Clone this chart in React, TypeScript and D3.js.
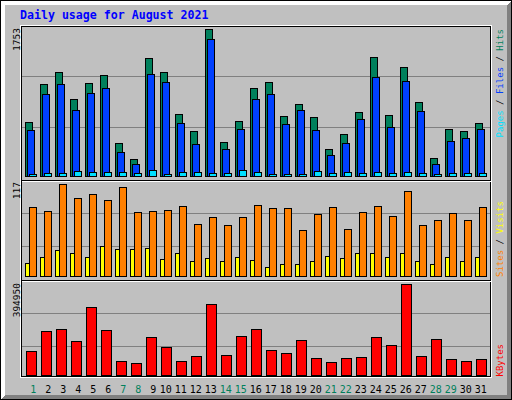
import React from 'react';
import * as d3 from 'd3';

// daily totals, August 2021
const days = [1, 2, 3, 4, 5, 6, 7, 8, 9, 10, 11, 12, 13, 14, 15, 16, 17, 18, 19, 20, 21, 22, 23, 24, 25, 26, 27, 28, 29, 30, 31];
const weekendDays = [1, 7, 8, 14, 15, 21, 22, 28, 29];

const hits = [642, 1096, 1239, 917, 1108, 1203, 391, 200, 1407, 1239, 737, 534, 1753, 403, 654, 1048,
  1120, 713, 857, 701, 319, 498, 761, 1418, 725, 1299, 881, 212, 558, 534, 630];
const files = [546, 976, 1096, 785, 988, 1048, 283, 140, 1215, 1120, 630, 379, 1634, 319, 558, 917,
  976, 618, 785, 546, 247, 391, 678, 1179, 582, 1132, 773, 140, 415, 450, 558];
const pages = [24, 36, 36, 60, 48, 48, 48, 36, 72, 24, 48, 48, 36, 36, 72, 48,
  24, 24, 24, 60, 36, 48, 36, 48, 36, 48, 36, 24, 36, 36, 36];

const visits = [16, 24, 33, 29, 24, 38, 34, 34, 35, 21, 29, 19, 23, 19, 24, 20,
  11, 15, 15, 19, 26, 23, 29, 29, 24, 29, 19, 15, 24, 19, 24];
const sites = [88, 83, 117, 99, 104, 97, 113, 81, 83, 84, 89, 66, 75, 65, 75, 90,
  86, 86, 58, 79, 88, 60, 81, 89, 76, 108, 65, 71, 80, 71, 88];

const kbytes = [103200, 190300, 199000, 146700, 294800, 194600, 59700, 50900, 164200, 120600, 59700, 81400,
  307900, 85800, 168500, 199000, 107600, 94500, 151100, 72700, 55300, 72700, 77100, 164200, 129300,
  394950, 81400, 155500, 68400, 59700, 68400];

const C = {
  bg: '#C0C0C0',
  dk: '#808080',
  hits: '#00805C',
  files: '#0040FF',
  pages: '#00E0FF',
  visits: '#FFFF00',
  sites: '#FF8000',
  kbytes: '#FF0000',
  title: '#0000FF',
};
const FONT = '"DejaVu Sans Mono", monospace';

const App: React.FC = () => {
  const x = d3.scaleLinear().domain([1, 31]).range([25, 475]);
  const yHits = d3.scaleLinear().domain([0, d3.max(hits) as number]).range([176.5, 29.5]);
  const ySites = d3.scaleLinear().domain([0, d3.max(sites) as number]).range([276.5, 184.5]);
  const yKb = d3.scaleLinear().domain([0, d3.max(kbytes) as number]).range([375.5, 284.5]);

  // grid lines split each panel in thirds
  const gTop = d3.scaleLinear().domain([0, 3]).range([178, 25]);
  const gMid = d3.scaleLinear().domain([0, 3]).range([279, 180]);
  const gBot = d3.scaleLinear().domain([0, 3]).range([379, 280]);
  const grid = [1, 2].flatMap(k => [gTop(k), gMid(k), gBot(k)]);

  const bar = (key: string, left: number, w: number, y: (v: number) => number, v: number, fill: string) => {
    const top = Math.round(y(v) - 0.5) + 0.5;
    const base = y(0);
    return <rect key={key} x={left + 0.5} y={top} width={w} height={base - top} fill={fill} stroke="#000" strokeWidth={1} />;
  };

  return (
    <svg width={512} height={400} viewBox="0 0 512 400"
      style={{ position: 'absolute', left: 0, top: 0, display: 'block' }}
      shapeRendering="crispEdges" fontFamily={FONT}>
      <rect x={0} y={0} width={512} height={400} fill={C.bg} />
      {/* bevelled outer border */}
      <polygon points="1,1 511,1 507,5 5,5 5,395 1,399" fill="#fff" />
      <polygon points="511,1 511,399 1,399 5,395 507,395 507,5" fill={C.dk} />
      <rect x={0.5} y={0.5} width={511} height={399} fill="none" stroke="#000" />

      <text x={20} y={18.5} fontSize={11.6} fontWeight="bold" fill={C.title}
        shapeRendering="auto">Daily usage for August 2021</text>

      {/* graph frame */}
      <rect x={20.5} y={25.5} width={471} height={352} fill="none" stroke="#fff" />
      <rect x={21.5} y={26.5} width={469} height={350} fill="none" stroke="#000" />
      <line x1={22} x2={491} y1={181.5} y2={181.5} stroke="#fff" />
      <line x1={21} x2={491} y1={180.5} y2={180.5} stroke="#000" />
      <line x1={22} x2={491} y1={281.5} y2={281.5} stroke="#fff" />
      <line x1={21} x2={491} y1={280.5} y2={280.5} stroke="#000" />

      {grid.map((g, i) => (
        <line key={'g' + i} x1={22} x2={490} y1={g + 0.5} y2={g + 0.5} stroke={C.dk} />
      ))}

      {days.map((d, i) => {
        const L = x(d);
        return (
          <g key={'d' + d}>
            {bar('h', L, 7, yHits, hits[i], C.hits)}
            {bar('f', L + 2, 7, yHits, files[i], C.files)}
            {bar('p', L + 4, 7, yHits, pages[i], C.pages)}
            {bar('v', L, 7, ySites, visits[i], C.visits)}
            {bar('s', L + 4, 7, ySites, sites[i], C.sites)}
            {bar('k', L + 1, 10, yKb, kbytes[i], C.kbytes)}
            <text x={L + (d < 10 ? 8.3 : 5.7)} y={393} fontSize={10} textAnchor="middle"
              fill={weekendDays.includes(d) ? C.hits : '#000'} shapeRendering="auto">{d}</text>
          </g>
        );
      })}

      {/* max value labels */}
      <g fontSize={9.5} fill="#000" textAnchor="end" shapeRendering="auto">
        <text transform="translate(19.5,28) rotate(-90)">{d3.max(hits)}</text>
        <text transform="translate(19.5,182) rotate(-90)">{d3.max(sites)}</text>
        <text transform="translate(19.5,283) rotate(-90)">{d3.max(kbytes)}</text>
      </g>

      {/* legends */}
      <g fontSize={9} shapeRendering="auto">
        <text transform="translate(503,29) rotate(-90)" textAnchor="end">
          <tspan fill={C.pages}>Pages</tspan>
          <tspan fill="#000"> / </tspan>
          <tspan fill={C.files}>Files</tspan>
          <tspan fill="#000"> / </tspan>
          <tspan fill={C.hits}>Hits</tspan>
        </text>
        <text transform="translate(503,277) rotate(-90)">
          <tspan fill={C.sites}>Sites</tspan>
          <tspan fill="#000"> / </tspan>
          <tspan fill={C.visits}>Visits</tspan>
        </text>
        <text transform="translate(503,376.5) rotate(-90)" fill={C.kbytes}>KBytes</text>
      </g>
    </svg>
  );
};

export default App;
